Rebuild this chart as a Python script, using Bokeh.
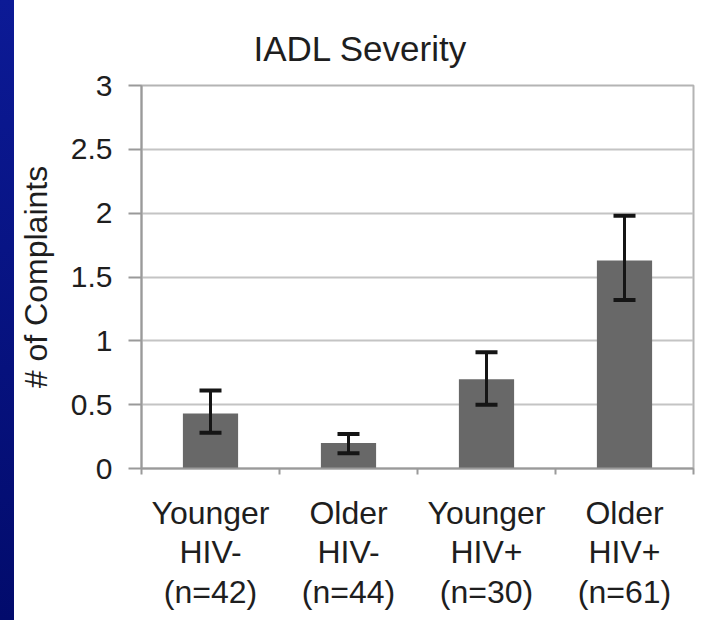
from bokeh.plotting import figure
from bokeh.models import ColumnDataSource, Whisker, TeeHead, FixedTicker, Spacer
from bokeh.layouts import row
from bokeh.embed import file_html
from bokeh.resources import INLINE

# ---- data ----
groups = ["Younger\nHIV-\n(n=42)", "Older\nHIV-\n(n=44)", "Younger\nHIV+\n(n=30)", "Older\nHIV+\n(n=61)"]
means = [0.43, 0.20, 0.70, 1.63]
err_low = [0.28, 0.12, 0.50, 1.32]
err_high = [0.61, 0.27, 0.91, 1.98]
y_ticks = [0, 0.5, 1, 1.5, 2, 2.5, 3]
y_tick_labels = ["0", "0.5", "1", "1.5", "2", "2.5", "3"]
title_text = "IADL Severity"
y_label = "# of Complaints"

xpos = [i + 0.5 for i in range(len(groups))]
bounds = [float(i) for i in range(len(groups) + 1)]

src = ColumnDataSource(dict(x=xpos, top=means, lower=err_low, upper=err_high))

FONT = "Liberation Sans"
TXT = "#1e1e1e"

p = figure(width=707, height=620, x_range=(0, len(groups)), y_range=(0, 3),
           output_backend="svg", toolbar_location=None,
           min_border_left=127, min_border_right=28, min_border_top=85, min_border_bottom=152)

p.title.text = title_text
p.title.text_font = FONT
p.title.text_font_size = "35px"
p.title.text_font_style = "normal"
p.title.text_color = TXT
p.title.align = "left"
p.title.offset = 112
p.title.vertical_align = "top"
p.title.standoff = 31

p.vbar(x="x", top="top", bottom=0, width=0.4, source=src,
       fill_color="#686868", line_color=None)

w = Whisker(base="x", lower="lower", upper="upper", source=src, level="overlay",
            line_color="#151515", line_width=3,
            lower_head=TeeHead(size=22, line_color="#151515", line_width=4),
            upper_head=TeeHead(size=22, line_color="#151515", line_width=4))
p.add_layout(w)

p.background_fill_color = "white"
p.border_fill_color = "white"
p.outline_line_color = "#b4b4b4"
p.outline_line_width = 2

p.xgrid.grid_line_color = None
p.ygrid.grid_line_color = "#c4c4c4"
p.ygrid.grid_line_width = 2

# x axis
p.xaxis.ticker = FixedTicker(ticks=xpos, minor_ticks=bounds)
p.xaxis.major_label_overrides = {x: g for x, g in zip(xpos, groups)}
p.xaxis.major_tick_line_color = None
p.xaxis.minor_tick_out = 6
p.xaxis.minor_tick_in = 0
p.xaxis.minor_tick_line_color = "#9a9a9a"
p.xaxis.minor_tick_line_width = 2
p.xaxis.axis_line_color = "#9a9a9a"
p.xaxis.axis_line_width = 2
p.xaxis.major_label_text_font = FONT
p.xaxis.major_label_text_font_size = "32px"
p.xaxis.major_label_text_color = TXT
p.xaxis.major_label_text_line_height = 1.1
p.xaxis.major_label_standoff = 20

# y axis
p.yaxis.ticker = FixedTicker(ticks=y_ticks)
p.yaxis.major_label_overrides = {t: l for t, l in zip(y_ticks, y_tick_labels)}
p.yaxis.major_tick_out = 13
p.yaxis.major_tick_in = 0
p.yaxis.major_tick_line_color = "#9a9a9a"
p.yaxis.major_tick_line_width = 2
p.yaxis.minor_tick_line_color = None
p.yaxis.axis_line_color = "#9a9a9a"
p.yaxis.axis_line_width = 2
p.yaxis.major_label_text_font = FONT
p.yaxis.major_label_text_font_size = "30px"
p.yaxis.major_label_text_color = TXT
p.yaxis.major_label_standoff = 16
p.yaxis.axis_label = y_label
p.yaxis.axis_label_text_font = FONT
p.yaxis.axis_label_text_font_size = "32px"
p.yaxis.axis_label_text_font_style = "normal"
p.yaxis.axis_label_text_color = TXT
p.yaxis.axis_label_standoff = 14

strip = Spacer(width=14, height=620,
               styles={"background": "linear-gradient(#0c1a96, #020b6c)"})

layout = row(strip, p, spacing=0)

open("out.html", "w").write(file_html(layout, INLINE))
